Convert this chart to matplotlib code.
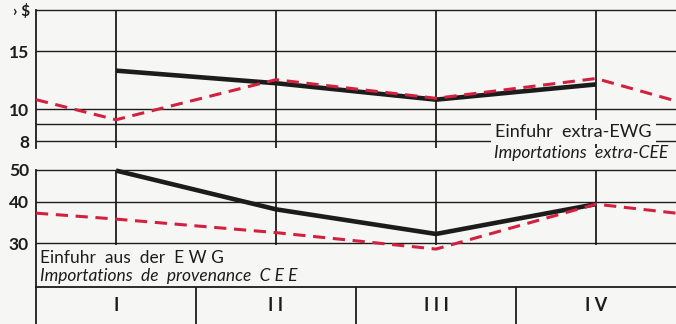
import numpy as np
import matplotlib
matplotlib.use("Agg")
import matplotlib.pyplot as plt
from matplotlib.ticker import NullLocator

plt.rcParams['font.family'] = ['Lato', 'DejaVu Sans']

# Quartale (x = 1..4), Rand bei 0.5 und 4.5
quartale = ["I", "I I", "I I I", "I V"]
x_q = [1, 2, 3, 4]
x_rand = [0.5, 1, 2, 3, 4, 4.5]

# Einfuhr extra-EWG (Mrd $)
extra_akt = [13.1, 12.0, 10.7, 11.9]
extra_vor = [10.7, 9.3, 12.3, 10.8, 12.4, 10.6]

# Einfuhr aus der EWG
ewg_akt = [49.8, 38.0, 32.0, 39.4]
ewg_vor = [37.0, 35.5, 32.3, 28.8, 39.4, 37.0]

ticks_oben = [15, 10, 8]
gitter_oben = [20, 15, 10, 9, 8]
ticks_unten = [50, 40, 30]
gitter_unten = [50, 40, 30]

W, H = 676, 324
bg = '#f6f6f4'
schwarz = '#1c1c1c'
rot = '#d2213f'
ppd = 330.0  # Pixel pro Dekade

fig = plt.figure(figsize=(W / 100, H / 100), dpi=100, facecolor=bg)


def achse(y_oben, y_unten, v_oben):
    ax = fig.add_axes([36 / W, 1 - y_unten / H, (W - 36) / W, (y_unten - y_oben) / H])
    ax.set_facecolor(bg)
    ax.set_yscale('log')
    ax.set_xlim(0.5, 4.5)
    ax.set_ylim(v_oben * 10 ** (-(y_unten - y_oben) / ppd), v_oben)
    for s in ['top', 'right', 'bottom']:
        ax.spines[s].set_visible(False)
    ax.spines['left'].set_linewidth(1.3)
    ax.spines['left'].set_color(schwarz)
    ax.set_xticks([])
    ax.yaxis.set_minor_locator(NullLocator())
    ax.tick_params(axis='y', length=0, pad=5, labelsize=12.5, labelcolor=schwarz)
    return ax


# oberes Feld
ax1 = achse(10, 148, 20)
for g in gitter_oben:
    ax1.axhline(g, color=schwarz, lw=1.0, zorder=1, clip_on=False)
ax1.vlines(x_q, ax1.get_ylim()[0], 20, color=schwarz, lw=1.3, zorder=1)
ax1.set_yticks(ticks_oben)
ax1.set_yticklabels([str(t) for t in ticks_oben], fontweight='bold')
ax1.plot(x_q, extra_akt, color=schwarz, lw=3.3, zorder=3, solid_capstyle='butt')
ax1.plot(x_rand, extra_vor, color=rot, lw=2.2, ls=(0, (4, 2.5)), zorder=4)
ax1.text(0.84, 0.115, "Einfuhr  extra-EWG", transform=ax1.transAxes, ha='center', va='center',
         fontsize=13, color=schwarz, zorder=5,
         bbox=dict(facecolor=bg, edgecolor='none', pad=3))

# unteres Feld
ax2 = achse(170, 287, 50)
for g in gitter_unten:
    ax2.axhline(g, color=schwarz, lw=1.0, zorder=1, clip_on=False)
ax2.vlines(x_q, 29.6, 50, color=schwarz, lw=1.3, zorder=1)
ax2.set_yticks(ticks_unten)
ax2.set_yticklabels([str(t) for t in ticks_unten], fontweight='bold')
ax2.plot(x_q, ewg_akt, color=schwarz, lw=3.3, zorder=3, clip_on=False, solid_capstyle='butt')
ax2.plot(x_rand, ewg_vor, color=rot, lw=2.2, ls=(0, (4, 2.5)), zorder=4)

# Texte
fig.text(668 / W, 1 - 153 / H, "Importations  extra-CEE", ha='right', va='center',
         fontsize=12.5, style='italic', color=schwarz)
fig.text(40 / W, 1 - 258 / H, "Einfuhr  aus  der  E W G", ha='left', va='center',
         fontsize=12.5, color=schwarz)
fig.text(40 / W, 1 - 276 / H, "Importations  de  provenance  C E E", ha='left', va='center',
         fontsize=12.5, style='italic', color=schwarz)
fig.text(30 / W, 1 - 12 / H, "› $", ha='right', va='center', fontsize=11,
         fontweight='bold', color=schwarz)

# Quartalsleiste
ax3 = fig.add_axes([36 / W, 0, (W - 36) / W, (H - 287) / H])
ax3.set_facecolor(bg)
ax3.set_xlim(0.5, 4.5)
ax3.set_ylim(0, 1)
ax3.axis('off')
ax3.axhline(1, color=schwarz, lw=1.3, clip_on=False)
ax3.axvline(0.5, color=schwarz, lw=1.3, clip_on=False)
ax3.vlines([1.5, 2.5, 3.5], 0, 1, color=schwarz, lw=1.3)
for xq, lab in zip(x_q, quartale):
    ax3.text(xq, 0.5, lab, ha='center', va='center', fontsize=13,
             fontweight='bold', color=schwarz)

fig.savefig('out.png', dpi=100, facecolor=bg)
